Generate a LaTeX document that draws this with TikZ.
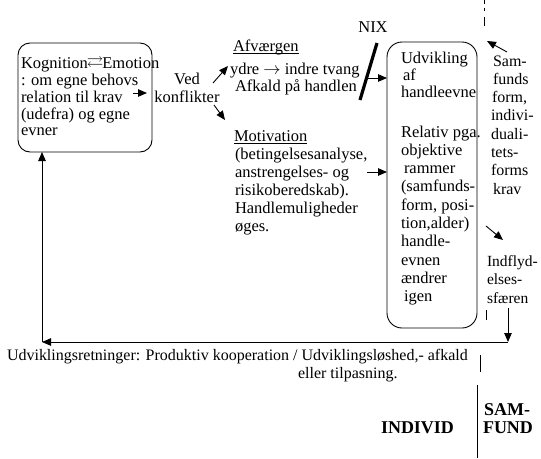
\documentclass[tikz,border=0pt]{standalone}
\usepackage{fontspec}
\setmainfont{Liberation Serif}
\usepackage{amssymb}
\usetikzlibrary{arrows.meta}
\begin{document}
\begin{tikzpicture}[x=1pt,y=-1pt,
  tx/.style={inner sep=0pt,outer sep=0pt,anchor=north west,align=left,font=\fontsize{16.5}{18.3}\selectfont},
  txa/.style={tx,font=\fontsize{16.5}{16.7}\selectfont},
  txb/.style={tx,font=\fontsize{16.5}{18}\selectfont},
  big/.style={inner sep=0pt,outer sep=0pt,anchor=west,font=\fontsize{18}{20}\selectfont\bfseries},
  box/.style={draw,line width=0.9pt,inner sep=0pt,outer sep=0pt,anchor=north west},
  arr/.style={-{Triangle[length=9pt,width=7.5pt]},line width=0.9pt},
  ln/.style={line width=0.9pt}
]
\fill[white] (0,0) rectangle (541,458);
\useasboundingbox (0,0) rectangle (541,458);

% boxes
\node[box,rounded corners=12pt,minimum width=134pt,minimum height=109pt] (kog) at (18,43) {};
\node[box,rounded corners=15pt,minimum width=90pt,minimum height=286pt] (rb) at (387,42) {};

% left box text
\node[txa] (kogtxt) at (21,56.3) {\strut Kognition\hspace{-1pt}\raisebox{1.5pt}{$\rightleftarrows$}\hspace{-1pt}Emotion\\: om egne behovs\\relation til krav\\(udefra) og egne\\evner};

% Ved konflikter
\node[tx,anchor=north,align=center] (ved) at (187,71.2) {\strut Ved\\konflikter};

% Afvaergen
\node[tx] (afv) at (233,38.2) {\strut Afværgen};
\draw[ln] ([yshift=-2.5pt]afv.base west) -- ([yshift=-2.5pt]afv.base east);
\node[tx] (ydre) at (230,61.2) {\strut ydre $\rightarrow$ indre tvang};
\node[tx] (afk) at (235,78.2) {\strut Afkald på handlen};

% NIX
\node[inner sep=0pt,font=\fontsize{16.5}{18}\selectfont] (nix) at (373,27) {NIX};
\coordinate (nixa) at (377,43);
\coordinate (nixb) at (360,100);
\draw[line width=3.2pt] (nixa) -- (nixb);

% Motivation
\node[tx] (mot) at (234,128.2) {\strut Motivation};
\draw[ln] ([yshift=-2.5pt]mot.base west) -- ([yshift=-2.5pt]mot.base east);
\node[txb] (mottxt) at (235,147.2) {\strut(betingelsesanalyse,\\ anstrengelses- og\\risikoberedskab).\\Handlemuligheder\\øges.};

% right box text
\node[tx,font=\fontsize{16.5}{17}\selectfont] (udv) at (401,51.2) {\strut Udvikling\\\hspace{2pt}af\\handleevne};
\node[tx] (rel) at (401,124.2) {\strut Relativ pga.\\objektive\\\hspace{3pt}rammer\\(samfunds-\\form, posi-\\tion,alder)\\handle-\\evnen\\ændrer\\\hspace{3pt}igen};

% right column
\node[tx,font=\fontsize{16}{18.3}\selectfont] (sam) at (491,53.2) {\strut\hspace{2pt}Sam-\\\hspace{2pt}funds\\\hspace{1pt}form,\\indivi-\\duali-\\tets-\\forms\\\hspace{2pt}krav};
\node[tx,font=\fontsize{15.5}{18.5}\selectfont] (indf) at (487,253.2) {\strut Indflyd-\\elses-\\sfæren};

% bottom text
\node[tx,font=\fontsize{16}{18}\selectfont] (udvr) at (7,348.2) {\strut Udviklingsretninger: Produktiv kooperation / Udviklingsløshed,- afkald};
\node[tx,font=\fontsize{16}{18}\selectfont] (tilp) at (298,366.2) {\strut eller tilpasning.};

\node[big] (indiv) at (381,428) {INDIVID};
\node[big] (samf1) at (484,410) {SAM-};
\node[big] (samf2) at (483,428) {FUND};

% coordinates for connectors
\coordinate (k1) at (133,93);
\coordinate (k2) at (147,93);
\coordinate (v1) at (213,83);
\coordinate (v2) at (228,66);
\coordinate (v3) at (214,105);
\coordinate (v4) at (225,120);
\coordinate (n1) at (366,78);
\coordinate (m1) at (367,172);
\coordinate (s1) at (507,52);
\coordinate (s2) at (487,41);
\coordinate (i1) at (486,226);
\coordinate (i2) at (503,240);
\coordinate (d1) at (508,308);
\coordinate (cR) at (508,342);
\coordinate (cL) at (42,342);

\draw[arr] (k1) -- (k2);
\draw[arr] (v1) -- (v2);
\draw[arr] (v3) -- (v4);
\draw[arr] (n1) -- (n1 -| rb.west);
\draw[arr] (m1) -- (m1 -| rb.west);
\draw[arr] (s1) -- (s2);
\draw[arr] (i1) -- (i2);
\draw[arr] (d1) -- (cR);
\draw[arr] (cR) -- (cL);
\draw[arr] (cL) -- (cL |- kog.south);

% separator lines
\coordinate (t1) at (484,0);
\coordinate (t2) at (484,26);
\draw[ln,dash pattern=on 4pt off 4pt on 3pt off 6pt on 9pt] (t1) -- (t2);
\coordinate (q1) at (486,310);
\coordinate (q2) at (486,320);
\draw[ln] (q1) -- (q2);
\coordinate (r1) at (480,355);
\coordinate (r2) at (480,372);
\draw[ln] (r1) -- (r2);
\coordinate (b1) at (477,385);
\coordinate (b2) at (477,458);
\draw[ln] (b1) -- (b2);
\end{tikzpicture}
\end{document}
